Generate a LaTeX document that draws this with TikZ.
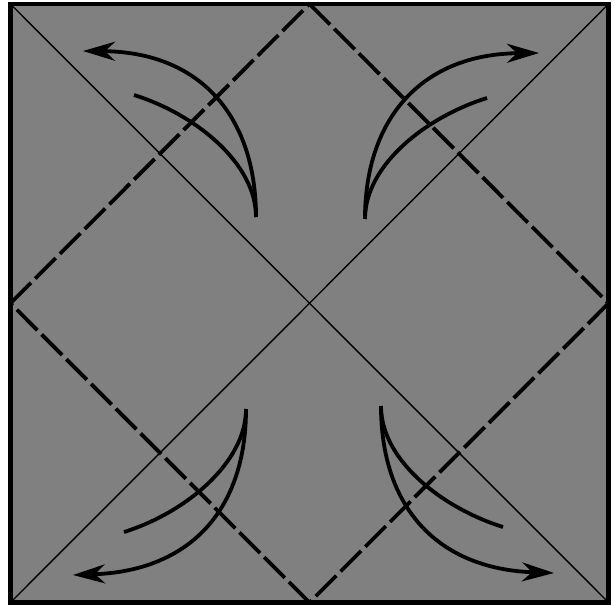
\documentclass[tikz,border=0pt]{standalone}
\usepackage{xcolor}
\usepackage{tikz}
\usetikzlibrary{arrows.meta,calc}
\definecolor{paper}{HTML}{808080}

\begin{document}
\begin{tikzpicture}[
    x=1pt, y=-1pt,
    edgeline/.style={draw=black, line width=4.2pt, fill=paper},
    valleyfold/.style={draw=black, line width=1.4pt},
    mountainfold/.style={draw=black, line width=3.8pt, dash pattern=on 29pt off 6pt},
    foldarrow/.style={draw=black, line width=3.8pt, -{Stealth[length=32pt, width=19pt, inset=10pt]}},
    foldtail/.style={draw=black, line width=3.8pt},
]
\useasboundingbox (0,0) rectangle (614,605);

% sheet corners and fold points
\coordinate (nw) at (10.5,4);
\coordinate (ne) at (608.5,4);
\coordinate (se) at (608.5,602.5);
\coordinate (sw) at (10.5,602.5);
\coordinate (top) at (309.5,4);
\coordinate (bot) at (309.5,602.5);
\coordinate (lft) at (10.5,303.3);
\coordinate (rgt) at (608.5,303.3);

\path[edgeline] (nw) rectangle (se);

% diagonals
\draw[valleyfold] (nw) -- (se);
\draw[valleyfold] (ne) -- (sw);

% diamond
\draw[mountainfold] (top) -- (rgt);
\draw[mountainfold] (rgt) -- (bot);
\draw[mountainfold] (bot) -- (lft);
\draw[mountainfold] (lft) -- (top);

% arrows, top left
\draw[foldarrow] (256,217) .. controls (256,115) and (199,52) .. (83,51);
\draw[foldtail] (256,217) .. controls (256,163) and (195,114) .. (134,95);

% arrows, top right
\draw[foldarrow] (365,219) .. controls (365,117) and (423,54) .. (539,53);
\draw[foldtail] (365,219) .. controls (365,165) and (426,117) .. (487,98);

% arrows, bottom left
\draw[foldarrow] (246,409) .. controls (246,511) and (189,571) .. (73,575);
\draw[foldtail] (246,409) .. controls (246,463) and (185,513) .. (124,532);

% arrows, bottom right
\draw[foldarrow] (381,406) .. controls (381,508) and (438,569) .. (554,573);
\draw[foldtail] (381,406) .. controls (381,460) and (442,508) .. (503,527);

\end{tikzpicture}
\end{document}
